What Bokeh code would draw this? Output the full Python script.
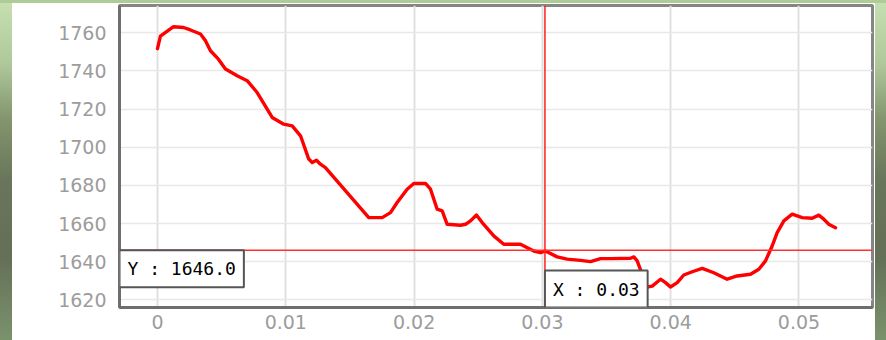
from bokeh.plotting import figure
from bokeh.layouts import row, column
from bokeh.models import Span, Label, FixedTicker, Range1d, Spacer
from bokeh.embed import file_html
from bokeh.resources import INLINE

# ---- data ----
x_vals = [0, 0.00023, 0.00125, 0.00203, 0.00257, 0.00335, 0.00374, 0.00413, 0.00475, 0.00530,
          0.00621, 0.00699, 0.00777, 0.00855, 0.00894, 0.00984, 0.01050, 0.01115, 0.01179, 0.01206,
          0.01239, 0.01270, 0.01309, 0.01647, 0.01751, 0.01816, 0.01868, 0.01946, 0.01998, 0.02089,
          0.02128, 0.02180, 0.02219, 0.02258, 0.02362, 0.02401, 0.02440, 0.02486, 0.02531, 0.02621,
          0.02699, 0.02829, 0.02933, 0.02985, 0.03024, 0.03115, 0.03193, 0.03297, 0.03375, 0.03453,
          0.03531, 0.03687, 0.03713, 0.03739, 0.03778, 0.03817, 0.03856, 0.03921, 0.03960, 0.03998,
          0.04051, 0.04102, 0.04168, 0.04246, 0.04336, 0.04440, 0.04518, 0.04622, 0.04687, 0.04739,
          0.04791, 0.04830, 0.04882, 0.04947, 0.05025, 0.05103, 0.05154, 0.05193, 0.05232, 0.05285]
y_vals = [1751.7, 1758.3, 1763.2, 1762.8, 1761.5, 1759.4, 1755.9, 1750.6, 1746.2, 1741.0,
          1737.5, 1734.9, 1728.7, 1720.0, 1715.6, 1712.1, 1711.2, 1706.0, 1693.8, 1692.0,
          1693.2, 1691.1, 1689.3, 1663.1, 1663.1, 1665.7, 1671.0, 1678.0, 1681.0, 1681.0,
          1678.0, 1667.5, 1666.6, 1659.6, 1659.1, 1659.6, 1661.4, 1664.5, 1660.5, 1653.5,
          1649.1, 1649.1, 1645.6, 1644.7, 1645.6, 1642.5, 1641.3, 1640.7, 1640.0, 1641.6,
          1641.6, 1641.8, 1642.5, 1640.4, 1633.4, 1626.7, 1627.2, 1630.8, 1629.0, 1626.7,
          1629.0, 1633.0, 1634.7, 1636.5, 1634.2, 1630.8, 1632.5, 1633.4, 1636.0, 1640.4,
          1648.2, 1655.2, 1661.4, 1664.9, 1663.1, 1662.8, 1664.4, 1662.3, 1659.6, 1657.8]

x_ticks = [0, 0.01, 0.02, 0.03, 0.04, 0.05]
x_tick_labels = ["0", "0.01", "0.02", "0.03", "0.04", "0.05"]
y_ticks = [1620, 1640, 1660, 1680, 1700, 1720, 1740, 1760]

cross_x = 0.0302
cross_y = 1646.0
cross_x_text = "X : 0.03"
cross_y_text = "Y : 1646.0"

H = 337
X_START, X_END = -0.00296, 0.05573
Y_START, Y_END = 1615.96, 1774.33

p = figure(width=863, height=H, output_backend="svg", toolbar_location=None,
           x_range=Range1d(X_START, X_END), y_range=Range1d(Y_START, Y_END),
           min_border_left=107, min_border_right=3, min_border_top=2, min_border_bottom=33)
p.background_fill_color = "white"
p.border_fill_color = "white"
p.outline_line_color = "#858585"
p.outline_line_width = 3

for ax in (p.xaxis[0], p.yaxis[0]):
    ax.axis_line_color = "#6e6e6e"
    ax.axis_line_width = 3
    ax.major_tick_line_color = None
    ax.minor_tick_line_color = None
    ax.major_label_text_color = "#9c9c9c"
    ax.major_label_text_font = "DejaVu Sans"
    ax.major_label_text_font_size = "19px"

p.xaxis[0].ticker = FixedTicker(ticks=x_ticks)
p.xaxis[0].major_label_overrides = {t: l for t, l in zip(x_ticks, x_tick_labels)}
p.xaxis[0].major_label_standoff = 1
p.yaxis[0].ticker = FixedTicker(ticks=y_ticks)
p.yaxis[0].major_label_standoff = 7

p.xgrid[0].grid_line_color = "#e0e0e0"
p.xgrid[0].grid_line_width = 2
p.ygrid[0].grid_line_color = "#e8e8e8"
p.ygrid[0].grid_line_width = 1.5

p.line(x_vals, y_vals, line_color="#ff0000", line_width=3.4, line_join="round", line_cap="round")

p.add_layout(Span(location=cross_x, dimension="height", line_color="#ff2020", line_width=1.5))
p.add_layout(Span(location=cross_y, dimension="width", line_color="#ff3030", line_width=1.5))

lab_y = Label(x=X_START, y=cross_y, text=cross_y_text, anchor="top_left",
              text_font="DejaVu Sans Mono", text_font_size="18px", text_color="black",
              background_fill_color="white", border_line_color="#555555", border_line_width=2,
              padding=8)
lab_x = Label(x=cross_x, y=Y_START, text=cross_x_text, anchor="bottom_left",
              text_font="DejaVu Sans Mono", text_font_size="18px", text_color="black",
              background_fill_color="white", border_line_color="#555555", border_line_width=2,
              padding=8)
p.add_layout(lab_y)
p.add_layout(lab_x)

gradient = ("linear-gradient(to bottom, #c6dfb0 0%, #afc89b 18%, #84966f 34%, "
            "#6a765b 52%, #646f56 75%, #6f8262 88%, #7a926c 100%)")
left = Spacer(width=12, height=H, styles={"background": gradient})
right = Spacer(width=11, height=H, styles={"background": gradient})
top = Spacer(width=886, height=3, styles={"background": "#b0cc96"})

layout = column(top, row(left, p, right, spacing=0), spacing=0)
open("out.html", "w").write(file_html(layout, INLINE))
